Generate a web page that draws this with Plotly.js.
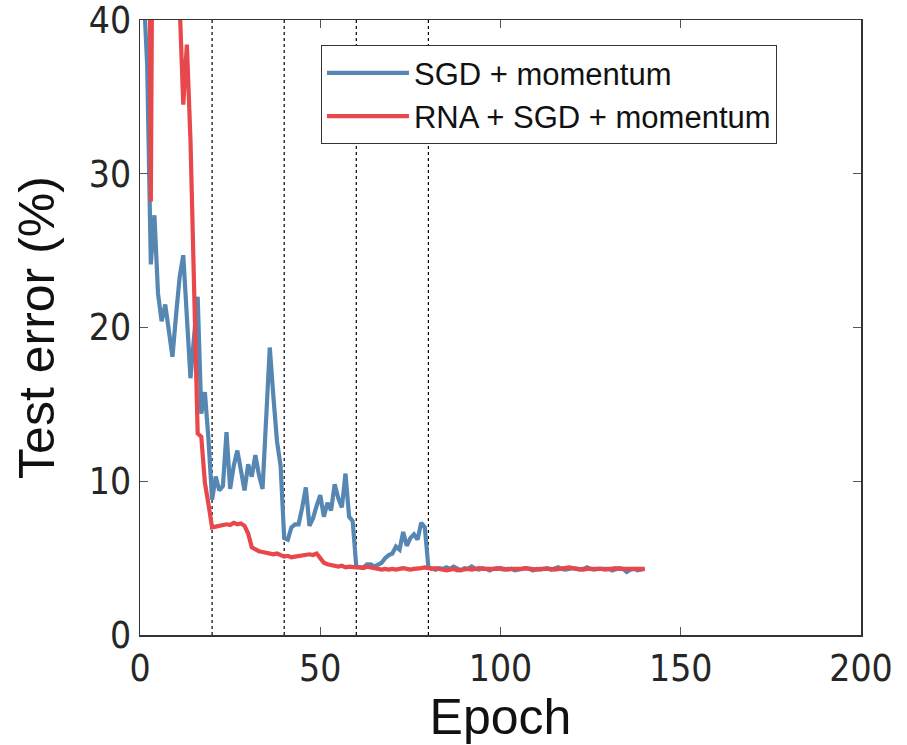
<!DOCTYPE html>
<html>
<head>
<meta charset="utf-8">
<script src="https://cdn.plot.ly/plotly-3.0.1.min.js"></script>
<style>html,body{margin:0;padding:0;background:#fff;}#chart{width:907px;height:745px;}</style>
</head>
<body>
<div id="chart"></div>
<script>
// Epoch index (x axis)
const epochs = [1,2,3,4,5,6,7,8,9,10,11,12,13,14,15,16,17,18,19,20,
21,22,23,24,25,26,27,28,29,30,31,32,33,34,35,36,37,38,39,40,
41,42,43,44,45,46,47,48,49,50,51,52,53,54,55,56,57,58,59,60,
61,62,63,64,65,66,67,68,69,70,71,72,73,74,75,76,77,78,79,80,
81,82,83,84,85,86,87,88,89,90,91,92,93,94,95,96,97,98,99,100,
101,102,103,104,105,106,107,108,109,110,111,112,113,114,115,116,117,118,119,120,
121,122,123,124,125,126,127,128,129,130,131,132,133,134,135,136,137,138,139,140];

// Test error (%) of SGD + momentum
const sgdError = [42,37,24.1,27.3,22.2,20.4,21.5,19.6,18.1,20.8,23.3,24.7,20.6,16.7,19.4,22.0,14.4,15.8,12.7,8.8,
10.3,9.4,9.7,13.2,9.5,11.0,12.0,10.6,9.4,11.1,10.3,11.7,10.4,9.5,14.0,18.7,15.5,12.6,11.0,6.3,
6.2,7.0,7.2,7.2,8.3,9.6,7.1,7.6,8.4,9.1,7.7,8.6,8.1,9.8,8.9,8.3,10.5,7.7,7.4,4.45,
4.4,4.4,4.6,4.6,4.45,4.6,4.7,5.0,5.2,5.3,5.75,5.55,6.7,5.8,6.3,6.55,6.2,7.3,7.0,4.4,
4.3,4.25,4.35,4.3,4.4,4.3,4.45,4.3,4.2,4.35,4.3,4.45,4.3,4.25,4.35,4.3,4.2,4.3,4.35,4.3,
4.25,4.3,4.3,4.2,4.25,4.3,4.35,4.3,4.2,4.3,4.25,4.3,4.35,4.25,4.3,4.4,4.3,4.25,4.3,4.35,
4.3,4.25,4.3,4.4,4.3,4.25,4.3,4.3,4.35,4.3,4.2,4.3,4.35,4.3,4.1,4.25,4.3,4.2,4.25,4.3];

// Test error (%) of RNA + SGD + momentum
const rnaError = [90,85,28.2,70,66,62,58,54,50,46,41,34.5,38.4,32.2,22.5,13.1,12.9,9.9,8.5,7.0,
7.05,7.1,7.15,7.2,7.15,7.3,7.2,7.25,7.1,6.6,5.7,5.55,5.45,5.4,5.35,5.3,5.25,5.3,5.2,5.1,
5.15,5.05,5.1,5.15,5.2,5.2,5.25,5.2,5.3,5.0,4.7,4.6,4.55,4.5,4.45,4.5,4.4,4.45,4.4,4.4,
4.4,4.35,4.45,4.4,4.3,4.25,4.25,4.3,4.25,4.3,4.25,4.3,4.35,4.3,4.25,4.3,4.3,4.35,4.4,4.35,
4.3,4.35,4.3,4.25,4.2,4.25,4.3,4.2,4.25,4.3,4.3,4.25,4.3,4.35,4.3,4.3,4.25,4.3,4.3,4.35,
4.3,4.25,4.3,4.3,4.25,4.3,4.35,4.3,4.3,4.25,4.3,4.3,4.35,4.3,4.25,4.3,4.3,4.35,4.4,4.35,
4.3,4.3,4.25,4.3,4.3,4.35,4.3,4.3,4.25,4.3,4.3,4.35,4.3,4.3,4.25,4.3,4.3,4.3,4.3,4.3];

// Learning-rate decay epochs (dotted markers)
const decayEpochs = [20,40,60,80];

const seriesNames = ['SGD + momentum', 'RNA + SGD + momentum'];
const xTicks = [0,50,100,150,200];
const yTicks = [0,10,20,30,40];

const tickFont = {family: 'Liberation Sans Narrow, DejaVu Sans Condensed, Liberation Sans, sans-serif', size: 37, color: '#262626'};
const titleFont = {family: 'Liberation Sans, sans-serif', size: 50, color: '#111'};

const traces = [
  {x: epochs, y: sgdError, type: 'scatter', mode: 'lines', name: seriesNames[0],
   line: {color: '#5687b3', width: 4.2}},
  {x: epochs, y: rnaError, type: 'scatter', mode: 'lines', name: seriesNames[1],
   line: {color: '#e8474b', width: 4.2}}
];

const shapes = decayEpochs.map(e => ({
  type: 'line', xref: 'x', yref: 'paper', x0: e, x1: e, y0: 0, y1: 1,
  line: {color: '#000', width: 1.2, dash: 'dot'}, layer: 'below'
}));

const axisCommon = {
  showgrid: false, zeroline: false, showline: true, linecolor: '#333', linewidth: 1.5,
  mirror: 'ticks', ticks: 'inside', ticklen: 8, tickwidth: 1.3, tickcolor: '#555',
  tickfont: tickFont, ticklabeloverflow: 'allow'
};

const layout = {
  width: 907, height: 745,
  margin: {l: 140, r: 46, t: 20, b: 110},
  paper_bgcolor: '#fff', plot_bgcolor: '#fff',
  showlegend: true,
  legend: {
    x: 0.251, y: 0.959, xanchor: 'left', yanchor: 'top',
    bgcolor: '#fff', bordercolor: '#333', borderwidth: 1,
    font: {family: 'Liberation Sans, sans-serif', size: 31, color: '#111'},
    itemwidth: 82, tracegroupgap: 0
  },
  xaxis: Object.assign({}, axisCommon, {
    range: [0, 200], tickvals: xTicks, ticktext: xTicks.map(String),
    title: {text: 'Epoch', font: titleFont, standoff: 8}
  }),
  yaxis: Object.assign({}, axisCommon, {
    range: [0, 40], tickvals: yTicks, ticktext: yTicks.map(String),
    title: {text: 'Test error (%)', font: titleFont, standoff: 18}
  }),
  shapes: shapes
};

Plotly.newPlot('chart', traces, layout, {displayModeBar: false, staticPlot: true});
</script>
</body>
</html>
